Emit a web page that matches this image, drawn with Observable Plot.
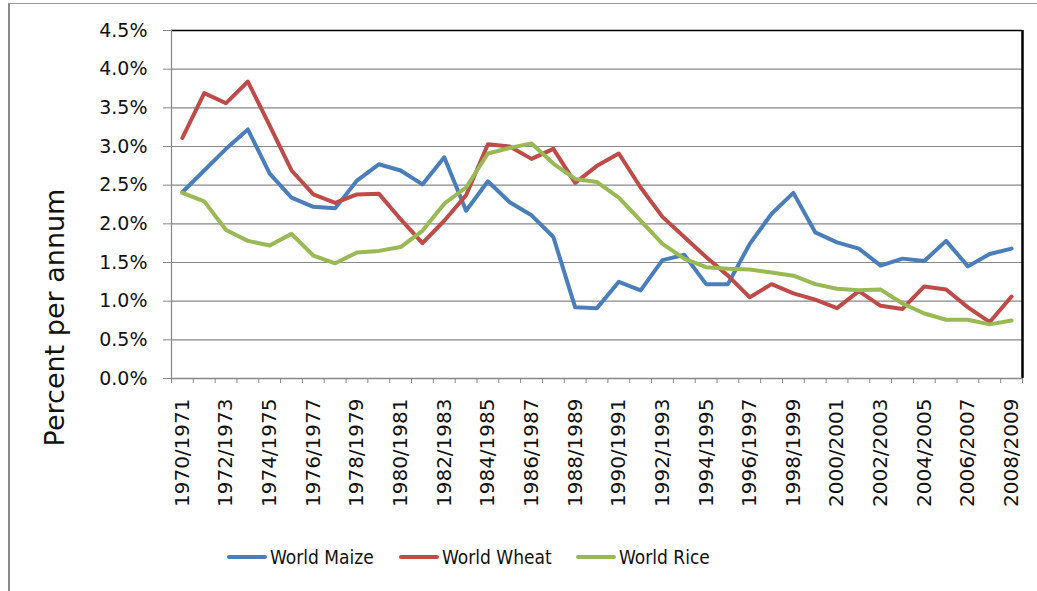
<!DOCTYPE html>
<html>
<head>
<meta charset="utf-8">
<script src="https://cdn.jsdelivr.net/npm/d3@7"></script>
<script src="https://cdn.jsdelivr.net/npm/@observablehq/plot@0.6"></script>
<style>
  html, body { margin: 0; padding: 0; background: #fff; }
  #wrap { position: relative; width: 1037px; height: 591px; overflow: hidden; background: #fff; }
  #frame { position: absolute; left: 8px; top: 3px; width: 1040px; height: 600px; border-left: 2px solid #8a8a8a; border-top: 1px solid #9a9a9a; }
  #chart { position: absolute; left: 0; top: 0; }
  #legend { position: absolute; top: 544px; left: 0; width: 1037px; height: 26px; font-family: "DejaVu Sans Condensed", "DejaVu Sans", sans-serif; font-size: 19px; color: #111; }
  .item { position: absolute; top: 0; display: flex; align-items: center; height: 26px; }
  .swatch { width: 40px; height: 4px; border-radius: 2px; margin-right: 3px; }
</style>
</head>
<body>
<div id="wrap">
  <div id="frame"></div>
  <div id="chart"></div>
  <div id="legend"></div>
</div>
<script>
const categories = ["1970/1971","1971/1972","1972/1973","1973/1974","1974/1975","1975/1976","1976/1977","1977/1978","1978/1979","1979/1980","1980/1981","1981/1982","1982/1983","1983/1984","1984/1985","1985/1986","1986/1987","1987/1988","1988/1989","1989/1990","1990/1991","1991/1992","1992/1993","1993/1994","1994/1995","1995/1996","1996/1997","1997/1998","1998/1999","1999/2000","2000/2001","2001/2002","2002/2003","2003/2004","2004/2005","2005/2006","2006/2007","2007/2008","2008/2009"];

const maize = [2.41,2.69,2.97,3.22,2.65,2.34,2.22,2.20,2.56,2.77,2.69,2.51,2.86,2.17,2.55,2.28,2.11,1.83,0.92,0.91,1.25,1.14,1.53,1.60,1.22,1.22,1.74,2.13,2.40,1.89,1.76,1.68,1.46,1.55,1.52,1.78,1.45,1.61,1.68];
const wheat = [3.11,3.69,3.56,3.84,3.27,2.69,2.38,2.27,2.38,2.39,2.06,1.75,2.04,2.37,3.03,3.00,2.84,2.97,2.53,2.75,2.91,2.47,2.09,1.83,1.57,1.33,1.05,1.22,1.10,1.02,0.91,1.13,0.94,0.90,1.19,1.15,0.92,0.73,1.06];
const rice  = [2.40,2.29,1.92,1.78,1.72,1.87,1.59,1.49,1.63,1.65,1.70,1.91,2.26,2.47,2.91,2.98,3.04,2.78,2.58,2.54,2.34,2.04,1.74,1.55,1.44,1.42,1.41,1.37,1.33,1.22,1.16,1.14,1.15,0.97,0.84,0.76,0.76,0.70,0.75];

const seriesNames = ["World Maize", "World Wheat", "World Rice"];
const seriesColors = ["#4a7ebb", "#be4b48", "#98b954"];
const yTicks = [0, 0.5, 1.0, 1.5, 2.0, 2.5, 3.0, 3.5, 4.0, 4.5];

const seriesValues = [maize, wheat, rice];
const rows = seriesValues.flatMap((vals, s) => vals.map((v, i) => ({i, v, s: seriesNames[s]})));
const boundaries = d3.range(categories.length + 1).map(k => k - 0.5);
const labelIdx = d3.range(0, categories.length, 2);

const gridColor = "#878787";

const chart = Plot.plot({
  width: 1037,
  height: 520,
  marginTop: 30,
  marginBottom: 142,
  marginLeft: 171,
  marginRight: 15,
  style: {fontFamily: "DejaVu Sans, sans-serif", fontSize: "19px", color: "#111", background: "transparent"},
  x: {type: "linear", domain: [-0.5, categories.length - 0.5]},
  y: {domain: [0, 4.5]},
  color: {domain: seriesNames, range: seriesColors},
  marks: [
    Plot.gridY(yTicks, {stroke: gridColor, strokeOpacity: 1, strokeWidth: 1.2}),
    Plot.ruleY([4.5], {stroke: "#000", strokeWidth: 1.6}),
    Plot.ruleX([categories.length - 0.5], {stroke: "#000", strokeWidth: 2.5}),
    Plot.ruleX([-0.5], {stroke: gridColor, strokeWidth: 1.2}),
    Plot.ruleY([0], {stroke: gridColor, strokeWidth: 1.5}),
    Plot.axisY(yTicks, {tickSize: 8, tickPadding: 16, tickFormat: d => d.toFixed(1) + "%", stroke: gridColor, label: null, fontSize: 19}),
    Plot.axisX(boundaries, {tickSize: 5, tickFormat: () => "", stroke: gridColor, label: null}),
    Plot.text(labelIdx, {x: d => d, y: 0, text: d => categories[d], rotate: -90, textAnchor: "end", lineAnchor: "middle", dy: 20, fontSize: 20}),
    Plot.text(["Percent per annum"], {frameAnchor: "left", rotate: -90, textAnchor: "middle", lineAnchor: "middle", dx: -116, dy: 113, fontSize: 27}),
    Plot.line(rows, {x: "i", y: "v", stroke: "s", z: "s", strokeWidth: 4, strokeLinejoin: "round", strokeLinecap: "round"})
  ]
});
document.getElementById("chart").appendChild(chart);

const legendPos = [227, 399, 576];
const legend = document.getElementById("legend");
seriesNames.forEach((name, k) => {
  const item = document.createElement("div");
  item.className = "item";
  item.style.left = legendPos[k] + "px";
  const sw = document.createElement("div");
  sw.className = "swatch";
  sw.style.background = seriesColors[k];
  const t = document.createElement("span");
  t.textContent = name;
  item.appendChild(sw);
  item.appendChild(t);
  legend.appendChild(item);
});
</script>
</body>
</html>
